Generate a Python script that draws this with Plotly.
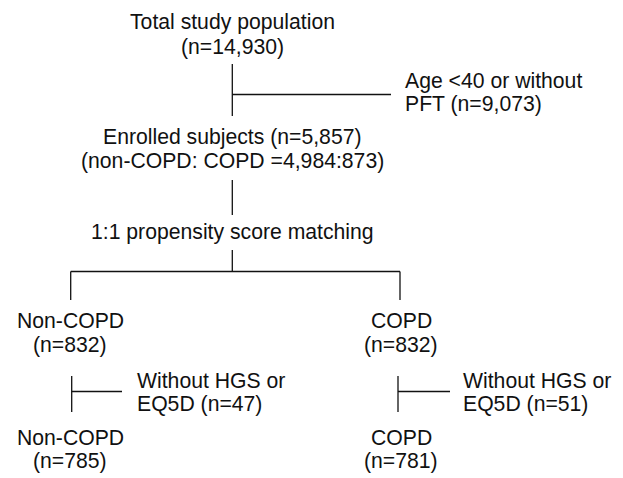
import plotly.graph_objects as go

total_n = 14930
excluded_age_pft = 9073
enrolled_n = 5857
enrolled_noncopd = 4984
enrolled_copd = 873
matched_noncopd = 832
matched_copd = 832
excluded_noncopd = 47
excluded_copd = 51
final_noncopd = 785
final_copd = 781

def n(v):
    return f"{v:,}"

# ---- layout geometry (pixels, y downward) ----
W, H = 623, 478
FONT = dict(family="Liberation Sans, Arial, sans-serif", size=21.2, color="#111111")
LINE = dict(color="#111111", width=1.3)

fig = go.Figure()

def seg(x0, y0, x1, y1):
    fig.add_trace(go.Scatter(x=[x0, x1], y=[y0, y1], mode="lines", line=LINE,
                             hoverinfo="skip", showlegend=False))

def txt(x, y, s, anchor="center"):
    fig.add_annotation(x=x, y=y, text=s, showarrow=False, xanchor=anchor,
                       yanchor="middle", font=FONT, xref="x", yref="y")

cx, lx, rx = 232.3, 70.7, 400

# Top node
txt(cx, 22, "Total study population")
txt(cx, 47, f"(n={n(total_n)})")
seg(cx, 64, cx, 116)
seg(cx, 94.5, 391, 94.5)
txt(403, 81, "Age <40 or without", "left")
txt(403, 104, f"PFT (n={n(excluded_age_pft)})", "left")

# Enrolled
txt(cx, 137, f"Enrolled subjects (n={n(enrolled_n)})")
txt(cx, 161, f"(non-COPD: COPD ={n(enrolled_noncopd)}:{enrolled_copd})")
seg(cx, 180, cx, 215)
txt(cx, 232, "1:1 propensity score matching")
seg(cx, 250, cx, 271.5)
seg(lx, 271.5, rx, 271.5)
seg(lx, 271.5, lx, 300)
seg(rx, 271.5, rx, 300)

# Matched groups
txt(70, 320, "Non-COPD")
txt(70, 345, f"(n={n(matched_noncopd)})")
txt(401, 320, "COPD")
txt(401, 345, f"(n={n(matched_copd)})")

seg(71.7, 376, 71.7, 412)
seg(71.7, 391.5, 122, 391.5)
txt(135, 380, "Without HGS or", "left")
txt(135, 404, f"EQ5D (n={excluded_noncopd})", "left")

seg(398, 376, 398, 412)
seg(398, 391.5, 450, 391.5)
txt(461, 380, "Without HGS or", "left")
txt(461, 404, f"EQ5D (n={excluded_copd})", "left")

# Final groups
txt(70, 437, "Non-COPD")
txt(70, 461, f"(n={n(final_noncopd)})")
txt(401, 437, "COPD")
txt(401, 461, f"(n={n(final_copd)})")

fig.update_layout(
    width=W, height=H,
    margin=dict(l=0, r=0, t=0, b=0),
    paper_bgcolor="white", plot_bgcolor="white",
    xaxis=dict(range=[0, W], visible=False, fixedrange=True),
    yaxis=dict(range=[H, 0], visible=False, fixedrange=True),
    showlegend=False,
)

fig.write_html("out.html", config={"displayModeBar": False},
               post_script="document.body.style.margin='0px';")
